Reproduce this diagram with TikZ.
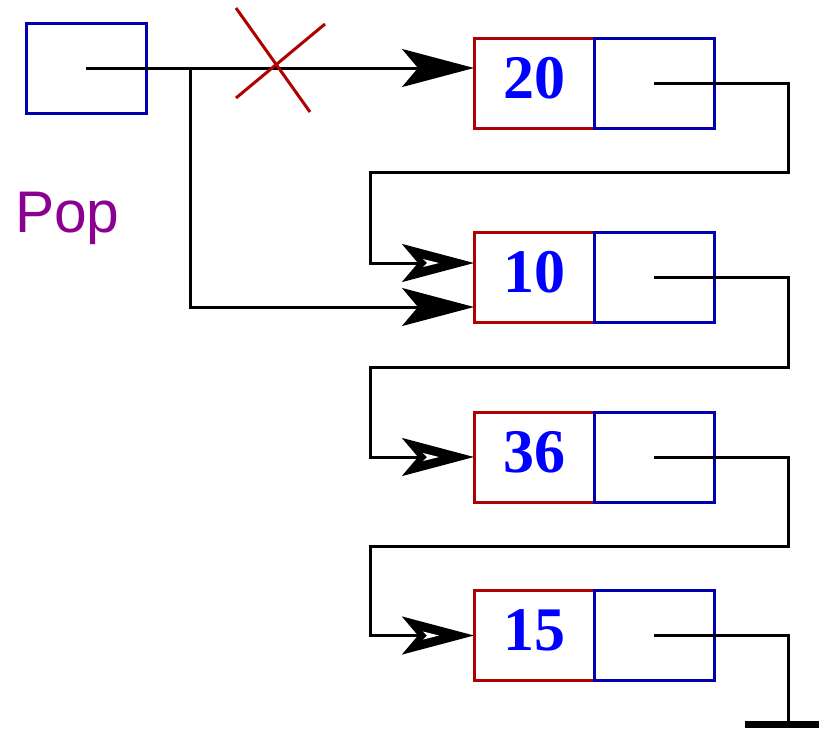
\documentclass[tikz,border=0pt]{standalone}
\usepackage{fontspec}
\setmainfont{Liberation Serif}
\newfontfamily\popfont{Liberation Sans}
\usetikzlibrary{arrows.meta}
\definecolor{boxred}{RGB}{176,0,0}
\definecolor{boxblue}{RGB}{0,0,176}
\definecolor{numblue}{RGB}{0,0,255}
\definecolor{poppurple}{RGB}{140,0,145}
\tikzset{
  cell/.style={draw, line width=3pt, minimum width=120pt, minimum height=90pt, inner sep=0pt, outer sep=0pt},
  datacell/.style={cell, draw=boxred},
  numtext/.style={text=numblue, font=\fontsize{62}{62}\selectfont\bfseries, inner sep=0pt},
  ptrcell/.style={cell, draw=boxblue},
  link/.style={draw=black, line width=3pt},
  arr/.style={link, -{Stealth[length=72pt, width=38pt, inset=16pt]}},
  crossline/.style={draw=boxred, line width=3pt},
  hole/.style={fill=white, draw=none}
}
\newcommand{\tiphole}[1]{%
  \fill[white] ($(#1)+(-51,-4)$) -- ($(#1)+(-35,0)$) -- ($(#1)+(-51,4)$) -- ($(#1)+(-47,0)$) -- cycle;}
\usetikzlibrary{calc}
\begin{document}
\begin{tikzpicture}[x=1pt, y=-1pt]
\useasboundingbox (0,0) rectangle (819,728);
% head pointer box
\node[ptrcell] (head) at (86,68) {};
\node[anchor=base west, text=poppurple, font=\fontsize{58.7}{60}\popfont, inner sep=0pt] (pop) at (15,232) {Pop};
% list cells
\node[datacell] (d1) at (534,83) {};
\node[ptrcell]  (p1) at (654,83) {};
\node[datacell] (d2) at (534,277.5) {};
\node[ptrcell]  (p2) at (654,277.5) {};
\node[datacell] (d3) at (534,457) {};
\node[ptrcell]  (p3) at (654,457) {};
\node[datacell] (d4) at (534,635.5) {};
\node[ptrcell]  (p4) at (654,635.5) {};
\node[numtext] (n1) at ([yshift=5pt]d1.center) {20};
\node[numtext] (n2) at ([yshift=5pt]d2.center) {10};
\node[numtext] (n3) at ([yshift=5pt]d3.center) {36};
\node[numtext] (n4) at ([yshift=5pt]d4.center) {15};
% head links
\coordinate (br) at (190,68);
\draw[arr] (head.center) -- (d1.west |- head.center);
\draw[arr] (br) |- (d2.west |- 0,307);
% cross over the old link
\draw[crossline] (236,8) -- (310,112);
\draw[crossline] (236,98) -- (325,24);
% next links
\coordinate (t2) at (d2.west |- 0,263);
\draw[arr] (p1.center) -| (788,172) -| (370,263) -- (t2);
\draw[arr] (p2.center) -| (788,367) -| (370,457) -- (d3.west);
\draw[arr] (p3.center) -| (788,546) -| (370,635.5) -- (d4.west);
\tiphole{t2}
\tiphole{d3.west}
\tiphole{d4.west}
% null terminator
\coordinate (gnd) at (788,722);
\draw[link] (p4.center) -| (gnd);
\fill[black] (745,721) rectangle (819,728);
\end{tikzpicture}
\end{document}
